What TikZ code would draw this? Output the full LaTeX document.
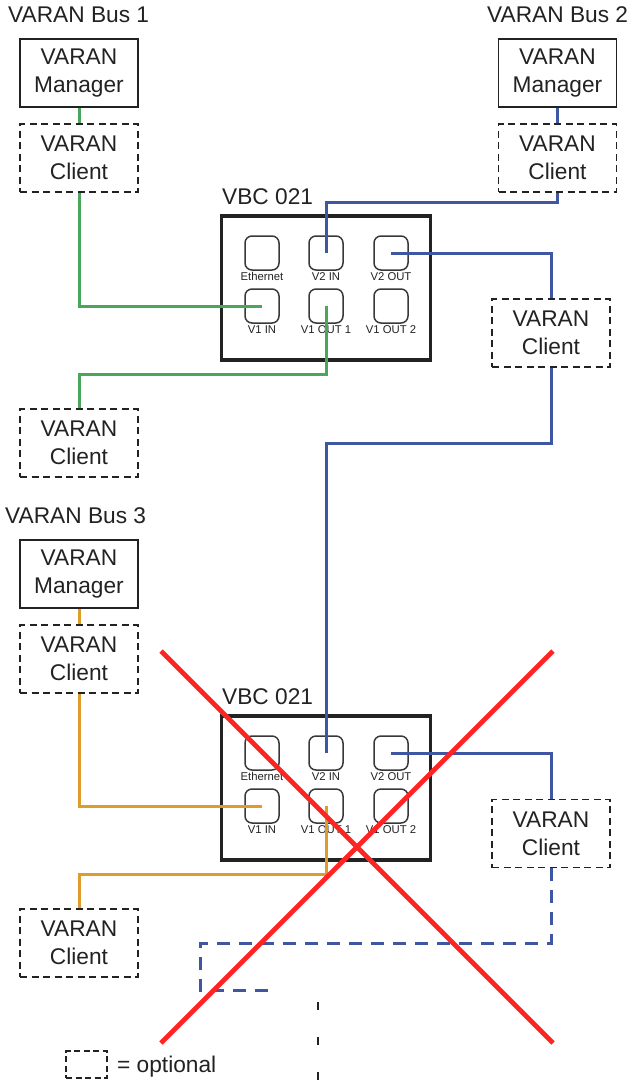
\documentclass[tikz,border=0pt]{standalone}
\usepackage{fontspec}
\setmainfont{Liberation Sans}
\definecolor{busgreen}{HTML}{4BA65B}
\definecolor{busblue}{HTML}{3F56A3}
\definecolor{busorange}{HTML}{E09C2B}
\definecolor{crossred}{HTML}{FF2424}
\definecolor{inktext}{HTML}{222222}
\newcommand{\portNode}[4]{%
  \node[port] (#1) at (#2,#3) {};
  \node[portlabel] at (#2,#3+23.5) {#4};
}
% one VBC block, #1 = prefix, #2 = top edge of the ports row
\newcommand{\vbcBlock}[2]{%
  \node[vbc] (#1box) at (326,#2+35) {};
  \node[title,anchor=west] (#1title) at (222,#2-56) {VBC 021};
  \portNode{#1eth}{262}{#2}{Ethernet}
  \portNode{#1v2in}{326}{#2}{V2 IN}
  \portNode{#1v2out}{391}{#2}{V2 OUT}
  \portNode{#1v1in}{262}{#2+53}{V1 IN}
  \portNode{#1v1outa}{326}{#2+53}{V1 OUT 1}
  \portNode{#1v1outb}{391}{#2+53}{V1 OUT 2}
}
\begin{document}
\begin{tikzpicture}[x=1pt,y=-1pt,
    title/.style={font=\fontsize{22.7}{28}\selectfont,text=inktext,inner sep=0pt},
    manager/.style={draw=inktext,line width=1.8pt,minimum width=118pt,minimum height=68pt,
      align=center,inner sep=0pt,font=\fontsize{22.7}{28}\selectfont,text=inktext},
    client/.style={manager,dash pattern=on 7pt off 4.5pt},
    vbc/.style={draw=inktext,line width=3.6pt,minimum width=209pt,minimum height=144pt},
    port/.style={draw=inktext!90,line width=1.5pt,rounded corners=7pt,minimum size=34pt,inner sep=0pt},
    portlabel/.style={font=\fontsize{11.3}{12}\selectfont,text=inktext,inner sep=0pt},
    wire/.style={line width=3pt},
    crossline/.style={crossred,line width=4.8pt}]
  \useasboundingbox (0,0) rectangle (629,1080);
  \node[title,anchor=west] (busa) at (8,15) {VARAN Bus 1};
  \node[title,anchor=west] (busb) at (487,15) {VARAN Bus 2};
  \node[title,anchor=west] (busc) at (5,516) {VARAN Bus 3};

  \node[manager] (mana) at (79,73) {VARAN\\Manager};
  \node[client] (clia) at (79,158) {VARAN\\Client};
  \node[manager] (manb) at (557.5,73) {VARAN\\Manager};
  \node[client] (clib) at (557.5,158) {VARAN\\Client};
  \node[client] (clic) at (551,333) {VARAN\\Client};
  \node[client] (clid) at (79,443) {VARAN\\Client};
  \node[manager] (manc) at (79,574) {VARAN\\Manager};
  \node[client] (clie) at (79,659) {VARAN\\Client};
  \node[client] (clif) at (551,833.5) {VARAN\\Client};
  \node[client] (clig) at (79,943) {VARAN\\Client};

  \vbcBlock{t}{253}
  \vbcBlock{u}{753}

  % bus 1
  \draw[wire,busgreen] (mana) -- (clia);
  \draw[wire,busgreen] (clia) |- (tv1in.center);
  \draw[wire,busgreen] (tv1outa.center) -- ++(0,68) -| (clid);
  % bus 2
  \draw[wire,busblue] (manb) -- (clib);
  \draw[wire,busblue] (clib.south) -- ++(0,10) -| (tv2in.center);
  \draw[wire,busblue] (tv2out.center) -| (clic);
  \draw[wire,busblue] (clic.south) -- ++(0,76) -| (uv2in.center);
  \draw[wire,busblue] (uv2out.center) -| (clif);
  \coordinate (dashend) at (268,990);
  \draw[wire,busblue,dash pattern=on 13pt off 9pt] (clif.south) -- ++(0,75) -- ++(-351,0) |- (dashend);
  % bus 3
  \draw[wire,busorange] (manc) -- (clie);
  \draw[wire,busorange] (clie) |- (uv1in.center);
  \draw[wire,busorange] (uv1outa.center) -- ++(0,68) -| (clig);

  % legend
  \coordinate (seamtop) at (318,1002);
  \coordinate (seambot) at (318,1080);
  \draw[inktext,line width=1.8pt,dash pattern=on 8pt off 27pt] (seamtop) -- (seambot);
  \node[client,line width=1.5pt,minimum width=41pt,minimum height=27pt,dash pattern=on 6pt off 3.5pt] (legbox) at (86.5,1064.5) {};
  \node[title,anchor=west] (legtext) at (117,1067) {= optional};

  % crossed out
  \coordinate (xa) at (161,651);
  \coordinate (xb) at (553,1043);
  \coordinate (xc) at (553,651);
  \coordinate (xd) at (161,1043);
  \draw[crossline] (xa) -- (xb);
  \draw[crossline] (xc) -- (xd);
\end{tikzpicture}
\end{document}
